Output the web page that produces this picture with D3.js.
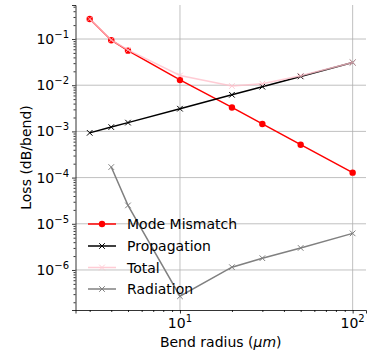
<!DOCTYPE html>
<html>
<head>
<meta charset="utf-8">
<script src="https://cdn.jsdelivr.net/npm/d3@7"></script>
<style>
  html, body { margin: 0; padding: 0; background: #fff; }
  svg { display: block; font-family: "DejaVu Sans", sans-serif; }
</style>
</head>
<body>
<svg id="chart" width="372" height="353"></svg>
<script>
// Bend radius samples (µm)
const radius = [3, 4, 5, 10, 20, 30, 50, 100];
const radiusRad = [4, 5, 10, 20, 30, 50, 100];

// Loss components (dB/bend)
const modeMismatch = [0.271, 0.094, 0.056, 0.013, 0.0033, 0.00145, 0.000515, 0.000128];
const propagation  = [0.00093, 0.00124, 0.00155, 0.0031, 0.0062, 0.0093, 0.0155, 0.031];
const total        = [0.272, 0.095, 0.058, 0.0162, 0.0096, 0.0108, 0.016, 0.031];
const radiation    = [1.69e-4, 2.5e-5, 2.7e-7, 1.15e-6, 1.8e-6, 3.0e-6, 6.2e-6];

const seriesNames = ["Mode Mismatch", "Propagation", "Total", "Radiation"];
const xMajorTicks = [10, 100];
const xMajorExp = ["1", "2"];
const yMajorTicks = [1e-6, 1e-5, 1e-4, 1e-3, 1e-2, 1e-1];
const yMajorExp = ["−6", "−5", "−4", "−3", "−2", "−1"];

const svg = d3.select("#chart");

const x = d3.scaleLog().domain([2.483, 119.5]).range([75.5, 366]);
const y = d3.scaleLog().domain([1.36e-7, 0.545]).range([310, 5]);

const series = [
  { name: seriesNames[0], xs: radius, ys: modeMismatch, color: "#ff0000", marker: "o", opacity: 1 },
  { name: seriesNames[1], xs: radius, ys: propagation, color: "#000000", marker: "x", opacity: 1 },
  { name: seriesNames[2], xs: radius, ys: total, color: "#ffc0cb", marker: "x", opacity: 0.8 },
  { name: seriesNames[3], xs: radiusRad, ys: radiation, color: "#808080", marker: "x", opacity: 1 }
];

// Minor tick positions within the visible ranges
const xMinor = [];
[1, 10, 100].forEach(d => { for (let k = 2; k <= 9; k++) { const v = k * d; if (v >= 2.483 && v <= 119.5) xMinor.push(v); } });
const yMinor = [];
[1e-7, 1e-6, 1e-5, 1e-4, 1e-3, 1e-2, 1e-1].forEach(d => { for (let k = 2; k <= 9; k++) { const v = k * d; if (v >= 1.36e-7 && v <= 0.545) yMinor.push(v); } });

// Grid lines (major only)
const grid = svg.append("g").attr("stroke", "#b0b0b0").attr("stroke-width", 0.8);
xMajorTicks.forEach(v => grid.append("line")
  .attr("x1", x(v)).attr("x2", x(v)).attr("y1", 5).attr("y2", 310));
yMajorTicks.forEach(v => grid.append("line")
  .attr("x1", 75.5).attr("x2", 366).attr("y1", y(v)).attr("y2", y(v)));

// Axes
const xAxis = d3.axisBottom(x).tickValues(xMajorTicks).tickSize(3.5).tickFormat("");
const xAxisMinor = d3.axisBottom(x).tickValues(xMinor).tickSize(2).tickFormat("");
const yAxis = d3.axisLeft(y).tickValues(yMajorTicks).tickSize(3.5).tickFormat("");
const yAxisMinor = d3.axisLeft(y).tickValues(yMinor).tickSize(2).tickFormat("");

function styleAxis(g) {
  g.selectAll("path").attr("stroke", "#000").attr("stroke-width", 0.8);
  g.selectAll("line").attr("stroke", "#000").attr("stroke-width", 0.8);
}
svg.append("g").attr("transform", "translate(0,310)").call(xAxis).call(styleAxis);
svg.append("g").attr("transform", "translate(0,310)").call(xAxisMinor).call(styleAxis).select("path").remove();
svg.append("g").attr("transform", "translate(75.5,0)").call(yAxis).call(styleAxis);
svg.append("g").attr("transform", "translate(75.5,0)").call(yAxisMinor).call(styleAxis).select("path").remove();

// Power-of-ten tick labels
xMajorTicks.forEach((v, i) => {
  const t = svg.append("text").attr("x", x(v)).attr("y", 328)
    .attr("text-anchor", "middle").attr("font-size", 14).attr("fill", "#000");
  t.append("tspan").text("10");
  t.append("tspan").attr("dy", -6).attr("font-size", 10).text(xMajorExp[i]);
});
yMajorTicks.forEach((v, i) => {
  const t = svg.append("text").attr("x", 69).attr("y", y(v) + 5)
    .attr("text-anchor", "end").attr("font-size", 14).attr("fill", "#000");
  t.append("tspan").text("10");
  t.append("tspan").attr("dy", -6).attr("font-size", 10).text(yMajorExp[i]);
});

// Axis titles
const xt = svg.append("text").attr("x", 220.7).attr("y", 347)
  .attr("text-anchor", "middle").attr("font-size", 14).attr("fill", "#000");
xt.append("tspan").text("Bend radius (");
xt.append("tspan").attr("font-style", "italic").text("μm");
xt.append("tspan").text(")");

svg.append("text").attr("transform", "translate(31,157.5) rotate(-90)")
  .attr("text-anchor", "middle").attr("font-size", 14).attr("fill", "#000")
  .text("Loss (dB/bend)");

function drawMarker(g, cx, cy, s) {
  if (s.marker === "o") {
    g.append("circle").attr("cx", cx).attr("cy", cy).attr("r", 3.2).attr("fill", s.color);
  } else {
    const h = 2.8;
    g.append("path")
      .attr("d", `M${cx - h},${cy - h}L${cx + h},${cy + h}M${cx - h},${cy + h}L${cx + h},${cy - h}`)
      .attr("stroke", s.color).attr("stroke-width", 1).attr("fill", "none");
  }
}

// Data lines
const line = d3.line().x(d => x(d[0])).y(d => y(d[1]));
series.forEach(s => {
  const g = svg.append("g").attr("opacity", s.opacity);
  const pts = s.xs.map((v, i) => [v, s.ys[i]]);
  g.append("path").attr("d", line(pts)).attr("fill", "none")
    .attr("stroke", s.color).attr("stroke-width", 1.5);
  pts.forEach(p => drawMarker(g, x(p[0]), y(p[1]), s));
});

// Legend
const legendY = [224, 246, 267.5, 289];
series.forEach((s, i) => {
  const g = svg.append("g").attr("opacity", s.opacity);
  g.append("line").attr("x1", 88).attr("x2", 116).attr("y1", legendY[i]).attr("y2", legendY[i])
    .attr("stroke", s.color).attr("stroke-width", 1.5);
  drawMarker(g, 102, legendY[i], s);
  svg.append("text").attr("x", 127).attr("y", legendY[i] + 5)
    .attr("font-size", 14).attr("fill", "#000").text(s.name);
});
</script>
</body>
</html>
